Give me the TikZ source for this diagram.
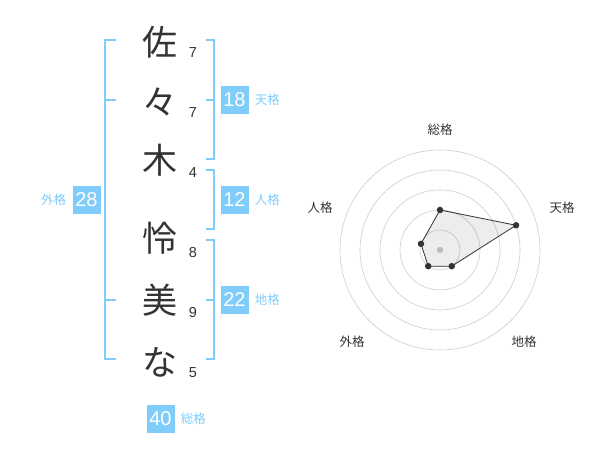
\documentclass[tikz,border=0pt]{standalone}
\usepackage{fontspec}
\setmainfont{Liberation Sans}
\newfontfamily\cjk{Noto Sans CJK JP}
\usetikzlibrary{calc}
\definecolor{kakublue}{RGB}{128,204,250}
\definecolor{inkgray}{RGB}{51,51,51}
\definecolor{ringgray}{RGB}{204,204,204}
\begin{document}
\begin{tikzpicture}[x=1pt, y=1pt,
  moji/.style    = {inner sep=0pt, text=inkgray, font=\cjk\fontsize{35}{35}\selectfont},
  kaku/.style    = {inner sep=0pt, text=inkgray, font=\fontsize{14.5}{14.5}\selectfont},
  kakubox/.style = {fill=kakublue, text=white, minimum width=28pt, minimum height=28pt, inner sep=0pt, font=\fontsize{20}{20}\selectfont},
  kakuname/.style= {inner sep=0pt, text=kakublue, font=\cjk\fontsize{12.5}{12.5}\selectfont},
  bracket/.style = {draw=kakublue, line width=2pt},
  axisname/.style= {inner sep=0pt, text=inkgray, font=\cjk\fontsize{12.5}{12.5}\selectfont},
  dot/.style     = {circle, fill=inkgray, inner sep=0pt, minimum size=6.5pt}]

		\useasboundingbox (0,0) rectangle (600,470);
		%%%%%%%%%%%%%%%%%%% name and strokes
		\node[moji] (m1) at (160,428) {佐};
		\node[moji] (m2) at (160,368) {々};
		\node[moji] (m3) at (160,310) {木};
		\node[moji] (m4) at (160,232) {怜};
		\node[moji] (m5) at (160,170) {美};
		\node[moji] (m6) at (160,108) {な};
		\node[kaku] (k1) at (193,417) {7};
		\node[kaku] (k2) at (193,357) {7};
		\node[kaku] (k3) at (193,297) {4};
		\node[kaku] (k4) at (193,217) {8};
		\node[kaku] (k5) at (193,157) {9};
		\node[kaku] (k6) at (193,97) {5};
		%%%%%%%%%%%%%%%%%%% brackets
		\draw[bracket] (116,430) -- (105,430) -- (105,111) -- (116,111); % outer
		\draw[bracket] (105,370) -- (116,370);
		\draw[bracket] (105,170) -- (116,170);
		\draw[bracket] (206,430) -- (214,430) -- (214,311) -- (206,311); % ten
		\draw[bracket] (206,370) -- (214,370);
		\draw[bracket] (206,300) -- (214,300) -- (214,241) -- (206,241); % jin
		\draw[bracket] (206,230) -- (214,230) -- (214,111) -- (206,111); % chi
		\draw[bracket] (206,170) -- (214,170);
		%%%%%%%%%%%%%%%%%%% totals
		\node[kakubox] (gai) at (86.5,270) {28};
		\node[kakuname, anchor=east] (gai-l) at ([xshift=-6pt]gai.west) {外格};
		\node[kakubox] (ten) at (234.5,370) {18};
		\node[kakuname, anchor=west] (ten-l) at ([xshift=6pt]ten.east) {天格};
		\node[kakubox] (jin) at (234.5,270) {12};
		\node[kakuname, anchor=west] (jin-l) at ([xshift=6pt]jin.east) {人格};
		\node[kakubox] (chi) at (234.5,170) {22};
		\node[kakuname, anchor=west] (chi-l) at ([xshift=6pt]chi.east) {地格};
		\node[kakubox] (sou) at (160.5,51) {40};
		\node[kakuname, anchor=west] (sou-l) at ([xshift=6pt]sou.east) {総格};
		%%%%%%%%%%%%%%%%%%% radar
		\coordinate (ctr) at (440,220);
		\foreach \r in {20,40,...,100}
			\draw[ringgray, line width=0.6pt] (ctr) circle (\r);
		\node[dot, fill=ringgray] (c0) at (ctr) {};
		\node[axisname] (a-sou) at (440,340) {総格};
		\node[axisname] (a-ten) at (562,262) {天格};
		\node[axisname] (a-jin) at (320,262) {人格};
		\node[axisname] (a-gai) at (352,128) {外格};
		\node[axisname] (a-chi) at (524,128) {地格};
		\foreach \nm/\ang/\val in {sou/90/40, ten/18/80, chi/-54/20, gai/-126/20, jin/162/20}
			\coordinate (p-\nm) at ($(ctr)+(\ang:\val)$);
		\draw[inkgray, line width=0.8pt, fill=black, fill opacity=0.07] (p-sou) -- (p-ten) -- (p-chi) -- (p-gai) -- (p-jin) -- cycle;
		\foreach \nm in {sou,ten,chi,gai,jin}
			\node[dot] (d-\nm) at (p-\nm) {};

\end{tikzpicture}
\end{document}
